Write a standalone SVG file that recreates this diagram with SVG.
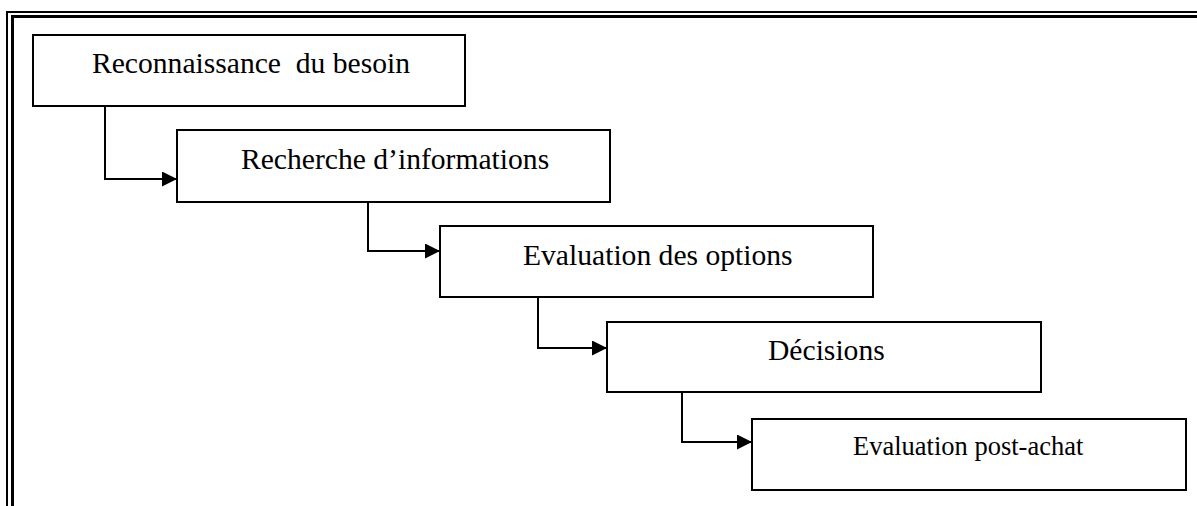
<svg xmlns="http://www.w3.org/2000/svg" width="1197" height="506" viewBox="0 0 1197 506">
  <style>
    .frame-outer { fill: none; stroke: #000; stroke-width: 2; }
    .frame-inner { fill: none; stroke: #000; stroke-width: 3; }
    .box { fill: #fff; stroke: #000; stroke-width: 2; }
    .label { font-family: "Liberation Serif", "Times New Roman", serif; font-size: 29.6px; fill: #000; }
    .label-small { font-size: 26.5px; }
    .link { fill: none; stroke: #000; stroke-width: 2; }
  </style>
  <defs>
    <marker id="arrow" markerUnits="userSpaceOnUse" markerWidth="16" markerHeight="16" refX="15" refY="7.5" orient="auto">
      <path d="M0,0 L15,7.5 L0,15 Z" fill="#000"/>
    </marker>
  </defs>

  <rect width="1197" height="506" fill="#fff"/>

  <!-- double page frame -->
  <g id="frame">
    <path class="frame-outer" d="M7,520 V12 H1210"/>
    <path class="frame-inner" d="M12.5,520 V16.5 H1210"/>
  </g>

  <!-- connectors -->
  <g id="connectors">
    <path class="link" d="M105,106 V179 H177" marker-end="url(#arrow)"/>
    <path class="link" d="M368,202 V251 H440" marker-end="url(#arrow)"/>
    <path class="link" d="M538,297 V348 H607" marker-end="url(#arrow)"/>
    <path class="link" d="M682,392 V442 H752" marker-end="url(#arrow)"/>
  </g>

  <g id="step1">
    <rect class="box" x="33" y="35" width="432" height="71"/>
    <text class="label" x="92" y="73" xml:space="preserve">Reconnaissance  du besoin</text>
  </g>

  <g id="step2">
    <rect class="box" x="177" y="130" width="433" height="72"/>
    <text class="label" x="241" y="169">Recherche d’informations</text>
  </g>

  <g id="step3">
    <rect class="box" x="440" y="226" width="433" height="71"/>
    <text class="label" x="523" y="265">Evaluation des options</text>
  </g>

  <g id="step4">
    <rect class="box" x="607" y="322" width="434" height="70"/>
    <text class="label" x="768" y="360">Décisions</text>
  </g>

  <g id="step5">
    <rect class="box" x="752" y="419" width="434" height="71"/>
    <text class="label label-small" x="853" y="455">Evaluation post-achat</text>
  </g>
</svg>
